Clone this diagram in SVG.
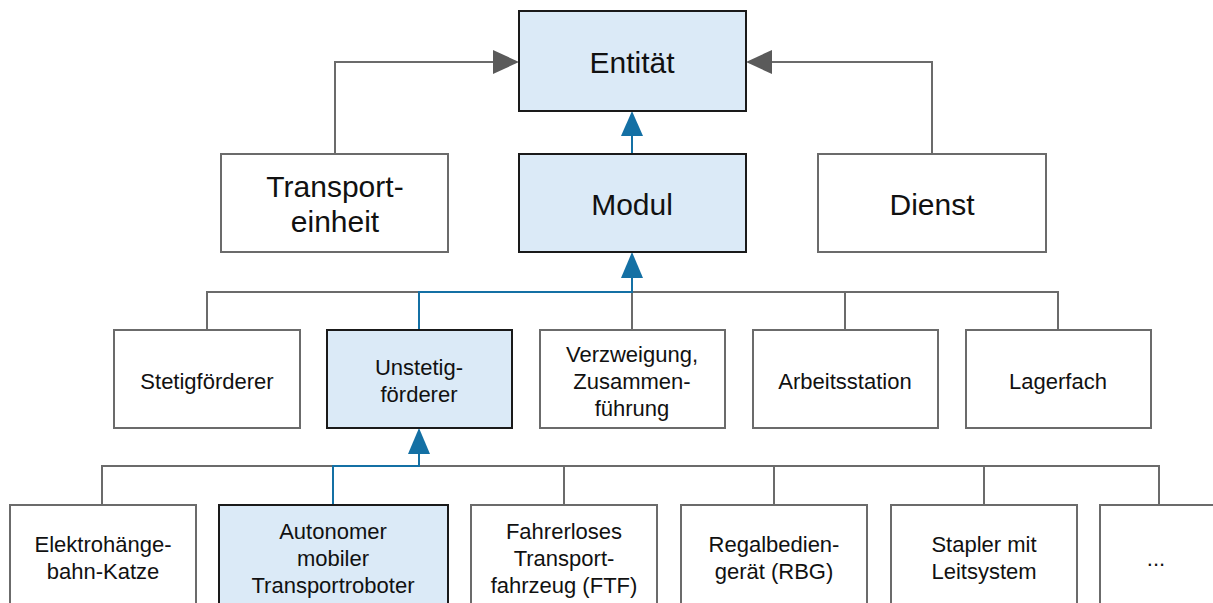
<svg xmlns="http://www.w3.org/2000/svg" width="1213" height="603" viewBox="0 0 1213 603">
  <style>
    .box { fill: #ffffff; stroke: #6b6b6b; stroke-width: 2; }
    .hl { fill: #dbeaf7; stroke: #1a1a1a; stroke-width: 2; }
    .lbl { font-family: "Liberation Sans", Arial, sans-serif; fill: #111111; text-anchor: middle; }
    .big { font-size: 30px; }
    .sm { font-size: 22px; }
    .gl { fill: none; stroke: #6b6b6b; stroke-width: 2; }
    .bl { fill: none; stroke: #1470a4; stroke-width: 2; }
    .gh { fill: #5a5a5a; }
    .bh { fill: #1470a4; }
  </style>

  <!-- connectors -->
  <g id="connectors">
    <!-- Transporteinheit / Dienst to Entität -->
    <polyline class="gl" points="335,154 335,62 495,62"/>
    <polygon class="gh" points="519,62 493,50 493,74"/>
    <polyline class="gl" points="932,154 932,62 770,62"/>
    <polygon class="gh" points="746,62 772,50 772,74"/>
    <!-- Modul to Entität -->
    <line class="gl bl" x1="632" y1="154" x2="632" y2="134"/>
    <polygon class="bh" points="632,111 621,136 643,136"/>

    <!-- module row bus -->
    <polyline class="gl" points="207,330 207,292 1058,292 1058,330"/>
    <line class="gl" x1="632" y1="292" x2="632" y2="330"/>
    <line class="gl" x1="845" y1="292" x2="845" y2="330"/>
    <polyline class="bl" points="419,330 419,292 632,292 632,276"/>
    <polygon class="bh" points="632,252 621,278 643,278"/>

    <!-- conveyor row bus -->
    <polyline class="gl" points="102,505 102,466 1159,466 1159,505"/>
    <line class="gl" x1="564" y1="466" x2="564" y2="505"/>
    <line class="gl" x1="774" y1="466" x2="774" y2="505"/>
    <line class="gl" x1="984" y1="466" x2="984" y2="505"/>
    <polyline class="bl" points="333,505 333,466 419,466 419,452"/>
    <polygon class="bh" points="419,428 408,454 430,454"/>
  </g>

  <!-- top level -->
  <g id="entitaet">
    <rect class="hl" x="519" y="11" width="227" height="100"/>
    <text class="lbl big" x="632" y="73">Entität</text>
  </g>
  <g id="transporteinheit">
    <rect class="box" x="221" y="154" width="227" height="98"/>
    <text class="lbl big" x="335" y="197">Transport-</text>
    <text class="lbl big" x="335" y="232">einheit</text>
  </g>
  <g id="modul">
    <rect class="hl" x="519" y="154" width="227" height="98"/>
    <text class="lbl big" x="632" y="215">Modul</text>
  </g>
  <g id="dienst">
    <rect class="box" x="818" y="154" width="228" height="98"/>
    <text class="lbl big" x="932" y="215">Dienst</text>
  </g>

  <!-- modules -->
  <g id="stetigfoerderer">
    <rect class="box" x="114" y="330" width="186" height="98"/>
    <text class="lbl sm" x="207" y="389">Stetigförderer</text>
  </g>
  <g id="unstetigfoerderer">
    <rect class="hl" x="327" y="330" width="185" height="98"/>
    <text class="lbl sm" x="419" y="375">Unstetig-</text>
    <text class="lbl sm" x="419" y="402">förderer</text>
  </g>
  <g id="verzweigung">
    <rect class="box" x="540" y="330" width="185" height="98"/>
    <text class="lbl sm" x="632" y="362">Verzweigung,</text>
    <text class="lbl sm" x="632" y="389">Zusammen-</text>
    <text class="lbl sm" x="632" y="416">führung</text>
  </g>
  <g id="arbeitsstation">
    <rect class="box" x="753" y="330" width="185" height="98"/>
    <text class="lbl sm" x="845" y="389">Arbeitsstation</text>
  </g>
  <g id="lagerfach">
    <rect class="box" x="966" y="330" width="185" height="98"/>
    <text class="lbl sm" x="1058" y="389">Lagerfach</text>
  </g>

  <!-- discontinuous conveyors -->
  <g id="ehb-katze">
    <rect class="box" x="10" y="505" width="186" height="110"/>
    <text class="lbl sm" x="103" y="552">Elektrohänge-</text>
    <text class="lbl sm" x="103" y="579">bahn-Katze</text>
  </g>
  <g id="amr">
    <rect class="hl" x="219" y="505" width="229" height="110"/>
    <text class="lbl sm" x="333" y="539">Autonomer</text>
    <text class="lbl sm" x="333" y="566">mobiler</text>
    <text class="lbl sm" x="333" y="593">Transportroboter</text>
  </g>
  <g id="ftf">
    <rect class="box" x="471" y="505" width="186" height="110"/>
    <text class="lbl sm" x="564" y="539">Fahrerloses</text>
    <text class="lbl sm" x="564" y="566">Transport-</text>
    <text class="lbl sm" x="564" y="593">fahrzeug (FTF)</text>
  </g>
  <g id="rbg">
    <rect class="box" x="681" y="505" width="186" height="110"/>
    <text class="lbl sm" x="774" y="552">Regalbedien-</text>
    <text class="lbl sm" x="774" y="579">gerät (RBG)</text>
  </g>
  <g id="stapler">
    <rect class="box" x="891" y="505" width="186" height="110"/>
    <text class="lbl sm" x="984" y="552">Stapler mit</text>
    <text class="lbl sm" x="984" y="579">Leitsystem</text>
  </g>
  <g id="weitere">
    <rect class="box" x="1100" y="505" width="130" height="110"/>
    <text class="lbl sm" x="1156" y="566">...</text>
  </g>
</svg>
